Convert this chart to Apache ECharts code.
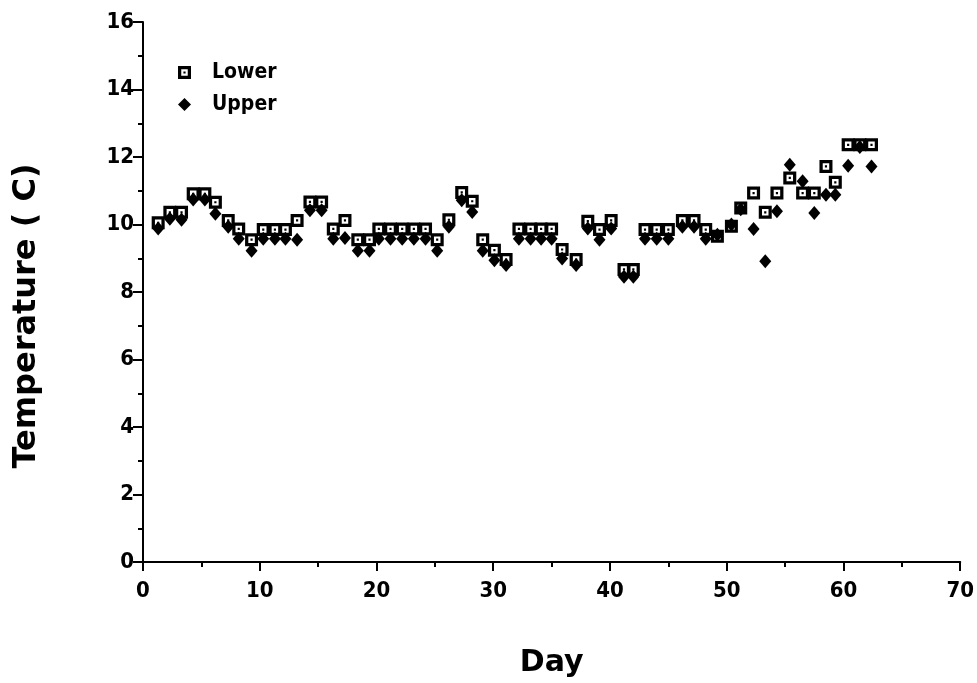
<!DOCTYPE html>
<html>
<head>
<meta charset="utf-8">
<script src="https://cdn.jsdelivr.net/npm/echarts@6/dist/echarts.min.js"></script>
<style>
  html, body { margin: 0; padding: 0; background: #fff; }
  #chart { width: 977px; height: 683px; }
</style>
</head>
<body>
<div id="chart"></div>
<script>
// day of each reading
var days = [1.3, 2.3, 3.3, 4.3, 5.3, 6.2, 7.3, 8.2, 9.3, 10.3, 11.3, 12.2, 13.2, 14.3, 15.3, 16.3,
  17.3, 18.4, 19.4, 20.2, 21.2, 22.2, 23.2, 24.2, 25.2, 26.2, 27.3, 28.2, 29.1, 30.1, 31.1,
  32.2, 33.2, 34.1, 35.0, 35.9, 37.1, 38.1, 39.1, 40.1, 41.2, 42.0, 43.0, 44.0, 45.0, 46.2,
  47.2, 48.2, 49.2, 50.4, 51.2, 52.3, 53.3, 54.3, 55.4, 56.5, 57.5, 58.5, 59.3, 60.4, 61.4, 62.4];

var lower = [10.05, 10.36, 10.36, 10.91, 10.91, 10.66, 10.12, 9.87, 9.55, 9.85, 9.85, 9.85, 10.12,
  10.67, 10.67, 9.87, 10.12, 9.55, 9.55, 9.87, 9.87, 9.87, 9.87, 9.87, 9.55, 10.14, 10.95, 10.69,
  9.55, 9.24, 8.96, 9.87, 9.87, 9.87, 9.87, 9.26, 8.96, 10.1, 9.85, 10.12, 8.67, 8.67, 9.85, 9.85,
  9.85, 10.12, 10.12, 9.85, 9.65, 9.95, 10.49, 10.93, 10.36, 10.93, 11.38, 10.93, 10.93, 11.72,
  11.25, 12.36, 12.36, 12.36];

var upper = [9.88, 10.17, 10.14, 10.74, 10.74, 10.32, 9.93, 9.58, 9.22, 9.58, 9.58, 9.58, 9.55,
  10.42, 10.42, 9.58, 9.6, 9.22, 9.22, 9.58, 9.58, 9.58, 9.58, 9.58, 9.22, 9.93, 10.72, 10.37,
  9.22, 8.94, 8.8, 9.58, 9.58, 9.58, 9.58, 8.99, 8.8, 9.88, 9.55, 9.88, 8.45, 8.45, 9.58, 9.58,
  9.58, 9.93, 9.93, 9.58, 9.7, 10.0, 10.45, 9.87, 8.91, 10.39, 11.77, 11.28, 10.34, 10.88, 10.88,
  11.74, 12.3, 11.72];

var seriesNames = ['Lower', 'Upper'];

function pairs(xs, ys) {
  return xs.map(function (x, i) { return [x, ys[i]]; });
}

// hollow square with a dot in the middle
var dotSquare = 'path://M0,0 H12 V12 H0 Z M3,3 V9 H9 V3 Z M5,5 H7 V7 H5 Z';
var labelFont = "'Liberation Sans Narrow', 'DejaVu Sans Condensed', sans-serif";
var titleFont = "'DejaVu Sans', sans-serif";

var chart = echarts.init(document.getElementById('chart'), null, { renderer: 'canvas' });

chart.setOption({
  backgroundColor: '#fff',
  animation: false,
  grid: { left: 143, right: 15, top: 22, bottom: 120 },
  legend: {
    orient: 'vertical',
    left: 173,
    top: 57,
    itemGap: 11,
    itemWidth: 13,
    itemHeight: 13,
    data: [
      { name: seriesNames[0], icon: dotSquare },
      { name: seriesNames[1], icon: 'diamond' }
    ],
    textStyle: { fontFamily: labelFont, fontSize: 21, fontWeight: 'bold', color: '#000', padding: [0, 0, 0, 16] }
  },
  xAxis: {
    type: 'value',
    min: 0,
    max: 70,
    interval: 10,
    name: 'Day',
    nameLocation: 'middle',
    nameGap: 86,
    nameTextStyle: { fontFamily: titleFont, fontSize: 30, fontWeight: 'bold', color: '#000' },
    axisLine: { onZero: false, lineStyle: { color: '#000', width: 2 } },
    axisTick: { length: 9, lineStyle: { color: '#000', width: 2 } },
    minorTick: { show: true, splitNumber: 2, length: 5, lineStyle: { color: '#000', width: 2 } },
    axisLabel: { fontFamily: labelFont, fontSize: 22, fontWeight: 'bold', color: '#000', margin: 18 },
    splitLine: { show: false }
  },
  yAxis: {
    type: 'value',
    min: 0,
    max: 16,
    interval: 2,
    name: 'Temperature ( C)',
    nameLocation: 'middle',
    nameGap: 100,
    nameTextStyle: {
      fontFamily: titleFont, fontSize: 32, fontWeight: 'bold', color: '#000',
      padding: [0, 48, 0, 0]
    },
    axisLine: { onZero: false, lineStyle: { color: '#000', width: 2 } },
    axisTick: { length: 10, lineStyle: { color: '#000', width: 2 } },
    minorTick: { show: true, splitNumber: 2, length: 5, lineStyle: { color: '#000', width: 2 } },
    axisLabel: { fontFamily: labelFont, fontSize: 22, fontWeight: 'bold', color: '#000', margin: 9 },
    splitLine: { show: false }
  },
  series: [
    {
      name: seriesNames[1],
      type: 'scatter',
      symbol: 'diamond',
      symbolSize: [12, 14],
      itemStyle: { color: '#000', opacity: 1 },
      data: pairs(days, upper)
    },
    {
      name: seriesNames[0],
      type: 'scatter',
      symbol: dotSquare,
      symbolSize: 13,
      itemStyle: { color: '#000', opacity: 1 },
      data: pairs(days, lower)
    }
  ]
});
</script>
</body>
</html>
